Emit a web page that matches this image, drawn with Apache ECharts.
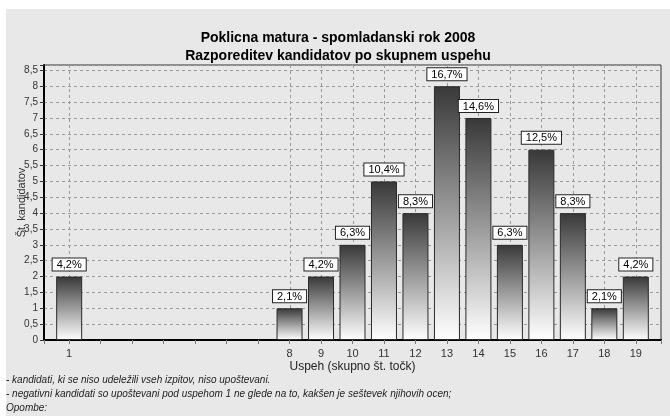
<!DOCTYPE html>
<html>
<head>
<meta charset="utf-8">
<title>Poklicna matura 2008</title>
<script src="https://cdn.jsdelivr.net/npm/echarts@6/dist/echarts.min.js"></script>
<style>
  html, body { margin: 0; padding: 0; background: #ffffff; }
  #main { position: absolute; left: 6px; top: 9px; width: 664px; height: 407px; }
</style>
</head>
<body>
<div id="main"></div>
<script>
// uspeh (skupno st. tock) and number of candidates
const scores = [1, 8, 9, 10, 11, 12, 13, 14, 15, 16, 17, 18, 19];
const counts = [2, 1, 2, 3, 5, 4, 8, 7, 3, 6, 4, 1, 2];
const pctLabels = ['4,2%', '2,1%', '4,2%', '6,3%', '10,4%', '8,3%', '16,7%', '14,6%', '6,3%', '12,5%', '8,3%', '2,1%', '4,2%'];
const notes = [
    '- kandidati, ki se niso udeležili vseh izpitov, niso upoštevani.',
    '- negativni kandidati so upoštevani pod uspehom 1 ne glede na to, kakšen je seštevek njihovih ocen;',
    'Opombe:'
];

var dom = document.getElementById('main');
var myChart = echarts.init(dom);

var barData = scores.map((s, i) => [s, counts[i]]);

var option = {
    backgroundColor: '#e8e8e8',
    animation: false,
    title: {
        text: 'Poklicna matura - spomladanski rok 2008\nRazporeditev kandidatov po skupnem uspehu',
        left: 'center',
        top: 15,
        textStyle: {
            fontFamily: 'Liberation Sans, Arial, sans-serif',
            fontSize: 14,
            fontWeight: 'bold',
            color: '#000',
            lineHeight: 18
        }
    },
    grid: {
        left: 38,
        right: 9,
        top: 56,
        bottom: 76,
        outerBoundsMode: 'none',
        containLabel: false,
        show: true,
        borderColor: '#333',
        borderWidth: 1,
        backgroundColor: 'transparent'
    },
    xAxis: {
        type: 'value',
        min: 0.2,
        max: 19.8,
        minInterval: 1,
        maxInterval: 1,
        name: 'Uspeh (skupno št. točk)',
        nameLocation: 'middle',
        nameGap: 21,
        nameMoveOverlap: false,
        nameTextStyle: { fontFamily: 'Liberation Sans, Arial, sans-serif', fontSize: 12, color: '#222' },
        axisLine: { show: true, lineStyle: { color: '#000', width: 2 } },
        axisTick: { show: true, length: 4, lineStyle: { color: '#777' } },
        splitLine: { show: false },
        axisLabel: {
            margin: 8,
            fontFamily: 'Liberation Sans, Arial, sans-serif',
            fontSize: 11,
            color: '#333',
            formatter: function (v) {
                return scores.indexOf(v) >= 0 ? String(v) : '';
            }
        }
    },
    yAxis: {
        type: 'value',
        min: 0,
        max: 8.67,
        interval: 0.5,
        name: 'Št. kandidatov',
        nameLocation: 'middle',
        nameGap: 17,
        nameMoveOverlap: false,
        nameTextStyle: { fontFamily: 'Liberation Sans, Arial, sans-serif', fontSize: 11, color: '#333' },
        axisLine: { show: true, lineStyle: { color: '#000', width: 2 } },
        axisTick: { show: true, length: 4, lineStyle: { color: '#333' } },
        axisLabel: {
            margin: 6,
            fontFamily: 'Liberation Sans, Arial, sans-serif',
            fontSize: 10,
            color: '#333',
            formatter: function (v) {
                if (Math.abs(v * 2 - Math.round(v * 2)) > 1e-6 || v > 8.5) return '';
                return String(v).replace('.', ',');
            }
        },
        splitLine: { show: true, lineStyle: { color: '#9a9a9a', type: [3, 3], width: 1 } }
    },
    series: [
        {
            // vertical dashed grid lines, only at the scores that exist
            type: 'custom',
            z: 1,
            silent: true,
            data: scores.map(s => [s]),
            encode: { x: 0 },
            renderItem: function (params, api) {
                var cs = params.coordSys;
                var x = Math.round(api.coord([api.value(0), 0])[0]) + 0.5;
                return {
                    type: 'line',
                    shape: { x1: x, y1: cs.y, x2: x, y2: cs.y + cs.height },
                    style: { stroke: '#9a9a9a', lineWidth: 1, lineDash: [3, 3] }
                };
            }
        },
        {
            type: 'bar',
            z: 3,
            data: barData,
            barWidth: 26,
            itemStyle: {
                color: new echarts.graphic.LinearGradient(0, 0, 0, 1, [
                    { offset: 0, color: '#383838' },
                    { offset: 1, color: '#ffffff' }
                ]),
                borderColor: '#2a2a2a',
                borderWidth: 1
            },
            label: {
                show: true,
                position: 'top',
                distance: 6,
                formatter: function (p) { return pctLabels[p.dataIndex]; },
                fontFamily: 'Liberation Sans, Arial, sans-serif',
                fontSize: 11,
                color: '#000',
                backgroundColor: '#ffffff',
                borderColor: '#222',
                borderWidth: 1,
                padding: [1, 4, 0, 4]
            }
        }
    ],
    graphic: notes.map((t, i) => ({
        type: 'text',
        left: 0,
        top: 366 + i * 14,
        silent: true,
        style: {
            text: t,
            fill: '#222',
            fontFamily: 'Liberation Sans, Arial, sans-serif',
            fontSize: 10,
            fontStyle: 'italic'
        }
    }))
};

if (option && typeof option === 'object') {
    myChart.setOption(option);
}
window.addEventListener('resize', myChart.resize);
</script>
</body>
</html>
